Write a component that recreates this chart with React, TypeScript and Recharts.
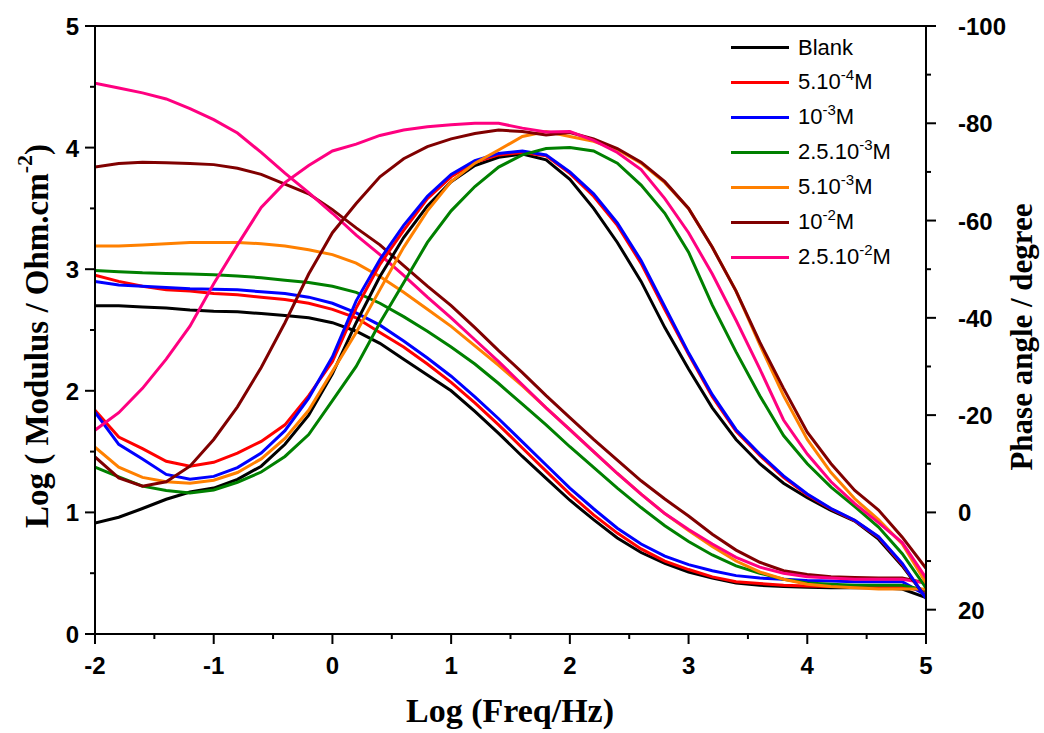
import { ComposedChart, Line, XAxis, YAxis, ReferenceLine } from 'recharts';

// log frequency (Hz), one point every 0.2 decade
const logFreq = [
  -2, -1.8, -1.6, -1.4, -1.2, -1, -0.8, -0.6, -0.4, -0.2, 0, 0.2, 0.4, 0.6, 0.8, 1, 1.2, 1.4,
  1.6, 1.8, 2, 2.2, 2.4, 2.6, 2.8, 3, 3.2, 3.4, 3.6, 3.8, 4, 4.2, 4.4, 4.6, 4.8, 5,
];

// log |Z|
const blankMod = [2.70, 2.70, 2.69, 2.68, 2.665, 2.655, 2.65, 2.635, 2.62, 2.60, 2.56, 2.49, 2.39, 2.26, 2.13, 2.00, 1.83, 1.65, 1.46, 1.28, 1.10, 0.94, 0.79, 0.67, 0.58, 0.51, 0.46, 0.42, 0.40, 0.39, 0.385, 0.38, 0.38, 0.38, 0.37, 0.30];
const c1Mod = [2.95, 2.90, 2.86, 2.83, 2.82, 2.80, 2.79, 2.77, 2.75, 2.72, 2.67, 2.60, 2.48, 2.36, 2.22, 2.07, 1.90, 1.72, 1.53, 1.34, 1.15, 0.98, 0.83, 0.70, 0.60, 0.53, 0.47, 0.43, 0.415, 0.40, 0.395, 0.39, 0.39, 0.39, 0.39, 0.35];
const c2Mod = [2.90, 2.87, 2.86, 2.85, 2.84, 2.835, 2.83, 2.815, 2.80, 2.77, 2.72, 2.64, 2.54, 2.41, 2.27, 2.12, 1.95, 1.77, 1.58, 1.39, 1.20, 1.03, 0.87, 0.74, 0.64, 0.57, 0.52, 0.48, 0.46, 0.45, 0.44, 0.435, 0.43, 0.43, 0.43, 0.32];
const c3Mod = [2.99, 2.98, 2.97, 2.965, 2.96, 2.955, 2.945, 2.93, 2.91, 2.89, 2.86, 2.81, 2.72, 2.61, 2.49, 2.36, 2.22, 2.06, 1.89, 1.72, 1.54, 1.37, 1.20, 1.04, 0.89, 0.76, 0.65, 0.56, 0.50, 0.45, 0.42, 0.41, 0.40, 0.40, 0.40, 0.36];
const c4Mod = [3.19, 3.19, 3.20, 3.21, 3.22, 3.22, 3.22, 3.21, 3.19, 3.16, 3.12, 3.05, 2.94, 2.81, 2.67, 2.53, 2.37, 2.21, 2.04, 1.86, 1.68, 1.50, 1.32, 1.15, 0.99, 0.85, 0.72, 0.60, 0.51, 0.45, 0.41, 0.39, 0.38, 0.37, 0.37, 0.37];
const c5Mod = [3.84, 3.87, 3.88, 3.875, 3.87, 3.86, 3.83, 3.78, 3.70, 3.62, 3.49, 3.34, 3.20, 3.03, 2.86, 2.70, 2.52, 2.33, 2.15, 1.96, 1.78, 1.60, 1.43, 1.26, 1.11, 0.97, 0.82, 0.69, 0.59, 0.52, 0.49, 0.47, 0.465, 0.46, 0.46, 0.42];
const c6Mod = [4.53, 4.49, 4.45, 4.40, 4.32, 4.23, 4.12, 3.96, 3.79, 3.63, 3.46, 3.28, 3.12, 2.95, 2.77, 2.60, 2.42, 2.24, 2.05, 1.86, 1.68, 1.50, 1.32, 1.15, 0.99, 0.86, 0.74, 0.63, 0.55, 0.50, 0.47, 0.46, 0.45, 0.45, 0.45, 0.42];

// phase angle (degree)
const blankPhase = [2.2, 1.0, -0.8, -2.7, -4.2, -5.0, -6.8, -9.5, -14.0, -20.0, -28.5, -39.0, -48.5, -56.5, -63.0, -68.0, -71.3, -73.0, -73.7, -72.5, -68.5, -62.5, -55.5, -47.5, -38.0, -29.5, -21.5, -15.0, -10.0, -6.0, -3.0, -0.4, 1.8, 5.5, 11.0, 17.5];
const c1Phase = [-21.0, -15.5, -13.1, -10.5, -9.5, -10.3, -12.2, -14.6, -18.0, -24.0, -31.0, -42.0, -51.0, -58.0, -64.5, -69.0, -72.0, -73.5, -74.0, -73.3, -69.7, -65.0, -59.0, -51.2, -41.7, -32.5, -23.8, -16.7, -11.7, -7.2, -3.6, -0.7, 1.7, 5.1, 10.7, 17.6];
const c2Phase = [-20.6, -14.0, -11.0, -7.8, -6.8, -7.4, -9.2, -12.2, -16.8, -23.5, -32.0, -43.5, -52.0, -59.0, -65.0, -69.5, -72.3, -73.8, -74.3, -73.5, -70.0, -65.5, -59.5, -51.8, -42.3, -32.8, -24.2, -17.0, -12.0, -7.5, -3.8, -0.8, 1.6, 5.0, 10.5, 17.7];
const c3Phase = [-9.3, -7.3, -5.4, -4.5, -4.0, -4.6, -6.2, -8.3, -11.5, -16.0, -23.0, -30.0, -39.0, -47.2, -55.5, -62.0, -67.0, -71.0, -73.5, -74.8, -75.0, -74.3, -71.8, -67.3, -61.5, -53.5, -42.6, -33.0, -24.0, -15.8, -10.0, -5.2, -1.2, 3.0, 8.5, 15.5];
const c4Phase = [-13.4, -9.3, -7.2, -6.3, -6.0, -6.6, -8.2, -11.0, -15.2, -21.0, -29.0, -37.0, -45.8, -54.5, -62.0, -68.0, -71.8, -74.5, -77.3, -78.3, -77.3, -76.3, -74.6, -71.8, -67.8, -62.5, -54.5, -45.5, -34.5, -24.0, -15.0, -8.2, -2.8, 1.5, 6.5, 14.5];
const c5Phase = [-11.4, -7.1, -5.4, -6.3, -9.5, -15.0, -21.7, -29.8, -39.0, -49.0, -57.5, -63.5, -69.0, -72.7, -75.2, -76.8, -77.9, -78.6, -78.3, -77.6, -78.1, -76.8, -74.8, -72.0, -68.0, -62.5, -54.5, -45.5, -35.0, -25.5, -16.5, -10.0, -4.5, -0.5, 5.1, 11.5];
const c6Phase = [-16.9, -20.5, -25.5, -31.5, -38.3, -47.0, -55.0, -62.7, -67.8, -71.3, -74.3, -75.7, -77.5, -78.6, -79.3, -79.7, -80.0, -80.0, -79.0, -78.2, -78.3, -76.5, -74.0, -70.5, -64.5, -57.5, -49.0, -39.5, -29.5, -19.0, -12.0, -6.3, -1.8, 2.1, 6.2, 13.5];

const xTicks = [-2, -1.5, -1, -0.5, 0, 0.5, 1, 1.5, 2, 2.5, 3, 3.5, 4, 4.5, 5];
const modTicks = [0, 0.5, 1, 1.5, 2, 2.5, 3, 3.5, 4, 4.5, 5];
const phaseTicks = [-100, -90, -80, -70, -60, -50, -40, -30, -20, -10, 0, 10, 20];

const series = [
  { key: 'blank', color: '#000000', mod: blankMod, phase: blankPhase },
  { key: 'c1', color: '#ff0000', mod: c1Mod, phase: c1Phase },
  { key: 'c2', color: '#0000ff', mod: c2Mod, phase: c2Phase },
  { key: 'c3', color: '#008000', mod: c3Mod, phase: c3Phase },
  { key: 'c4', color: '#ff8000', mod: c4Mod, phase: c4Phase },
  { key: 'c5', color: '#800000', mod: c5Mod, phase: c5Phase },
  { key: 'c6', color: '#ff0080', mod: c6Mod, phase: c6Phase },
];

// legend: [prefix, superscript, suffix]
const legendItems: [string, string, string][] = [
  ['Blank', '', ''],
  ['5.10', '-4', 'M'],
  ['10', '-3', 'M'],
  ['2.5.10', '-3', 'M'],
  ['5.10', '-3', 'M'],
  ['10', '-2', 'M'],
  ['2.5.10', '-2', 'M'],
];

const data = logFreq.map((x, i) => {
  const row: Record<string, number> = { x };
  series.forEach((s) => {
    row[s.key + 'Mod'] = s.mod[i];
    row[s.key + 'Phase'] = s.phase[i];
  });
  return row;
});

const tickFont = 'Arial, "Liberation Sans", sans-serif';
const titleFont = '"Times New Roman", "Liberation Serif", serif';

const isMajor = (v: number) => Number.isInteger(v);
const isMajorPhase = (v: number) => v % 20 === 0;

const XTick = ({ x, y, payload }: any) => (
  <g>
    <line x1={x} y1={y} x2={x} y2={y + (isMajor(payload.value) ? 10 : 5)} stroke="#000" strokeWidth={2} />
    {isMajor(payload.value) && (
      <text x={x} y={y + 40} textAnchor="middle" fontFamily={tickFont} fontWeight="bold" fontSize={24} fill="#000">
        {payload.value}
      </text>
    )}
  </g>
);

const ModTick = ({ x, y, payload }: any) => (
  <g>
    <line x1={x} y1={y} x2={x - (isMajor(payload.value) ? 10 : 5)} y2={y} stroke="#000" strokeWidth={2} />
    {isMajor(payload.value) && (
      <text x={x - 16} y={y + 9} textAnchor="end" fontFamily={tickFont} fontWeight="bold" fontSize={24} fill="#000">
        {payload.value}
      </text>
    )}
  </g>
);

const PhaseTick = ({ x, y, payload }: any) => (
  <g>
    <line x1={x} y1={y} x2={x + (isMajorPhase(payload.value) ? 10 : 5)} y2={y} stroke="#000" strokeWidth={2} />
    {isMajorPhase(payload.value) && (
      <text x={x + 32} y={y + 9} textAnchor="start" fontFamily={tickFont} fontWeight="bold" fontSize={24} fill="#000">
        {payload.value}
      </text>
    )}
  </g>
);

export default function App() {
  return (
    <div style={{ position: 'absolute', left: 0, top: 0, width: 1044, height: 733, background: '#fff' }}>
      <ComposedChart width={1044} height={733} data={data} margin={{ top: 26, right: 18, left: 15, bottom: 19 }}>
        <XAxis
          dataKey="x"
          type="number"
          domain={[-2, 5]}
          ticks={xTicks}
          tick={<XTick />}
          tickLine={false}
          tickSize={0}
          tickMargin={0}
          axisLine={{ stroke: '#000', strokeWidth: 2 }}
          height={80}
          allowDataOverflow
          label={{
            content: () => (
              <text x={510} y={722} textAnchor="middle" fontFamily={titleFont} fontWeight="bold" fontSize={34} fill="#000">
                Log (Freq/Hz)
              </text>
            ),
          }}
        />
        <YAxis
          yAxisId="mod"
          domain={[0, 5]}
          ticks={modTicks}
          tick={<ModTick />}
          tickLine={false}
          tickSize={0}
          tickMargin={0}
          axisLine={{ stroke: '#000', strokeWidth: 2 }}
          width={80}
          allowDataOverflow
          label={{
            content: () => (
              <text
                x={37}
                y={336}
                transform="rotate(-90, 37, 336)"
                textAnchor="middle"
                dominantBaseline="central"
                fontFamily={titleFont}
                fontWeight="bold"
                fontSize={33}
                fill="#000"
              >
                Log ( Modulus / Ohm.cm
                <tspan fontSize={22} dy={-13}>-2</tspan>
                <tspan dy={13}>)</tspan>
              </text>
            ),
          }}
        />
        <YAxis
          yAxisId="phase"
          orientation="right"
          domain={[-100, 25]}
          reversed
          ticks={phaseTicks}
          tick={<PhaseTick />}
          tickLine={false}
          tickSize={0}
          tickMargin={0}
          axisLine={{ stroke: '#000', strokeWidth: 2 }}
          width={100}
          allowDataOverflow
          label={{
            content: () => (
              <text
                x={1021}
                y={337}
                transform="rotate(-90, 1021, 337)"
                textAnchor="middle"
                dominantBaseline="central"
                fontFamily={titleFont}
                fontWeight="bold"
                fontSize={31}
                fill="#000"
              >
                Phase angle / degree
              </text>
            ),
          }}
        />
        <ReferenceLine yAxisId="mod" y={5} stroke="#000" strokeWidth={2} />
        {series.map((s) => (
          <Line
            key={s.key + 'Mod'}
            yAxisId="mod"
            type="linear"
            dataKey={s.key + 'Mod'}
            stroke={s.color}
            strokeWidth={3}
            dot={false}
            isAnimationActive={false}
          />
        ))}
        {series.map((s) => (
          <Line
            key={s.key + 'Phase'}
            yAxisId="phase"
            type="linear"
            dataKey={s.key + 'Phase'}
            stroke={s.color}
            strokeWidth={3}
            dot={false}
            isAnimationActive={false}
          />
        ))}
      </ComposedChart>
      <div style={{ position: 'absolute', left: 731, top: 30, fontFamily: tickFont, fontSize: 22, color: '#000' }}>
        {legendItems.map(([pre, sup, post], i) => (
          <div key={i} style={{ display: 'flex', alignItems: 'center', height: 35 }}>
            <div style={{ width: 58, height: 3, background: series[i].color }} />
            <span style={{ marginLeft: 9, whiteSpace: 'nowrap', lineHeight: '35px' }}>
              {pre}
              {sup && <span style={{ fontSize: 15, position: 'relative', top: -9 }}>{sup}</span>}
              {post}
            </span>
          </div>
        ))}
      </div>
    </div>
  );
}
